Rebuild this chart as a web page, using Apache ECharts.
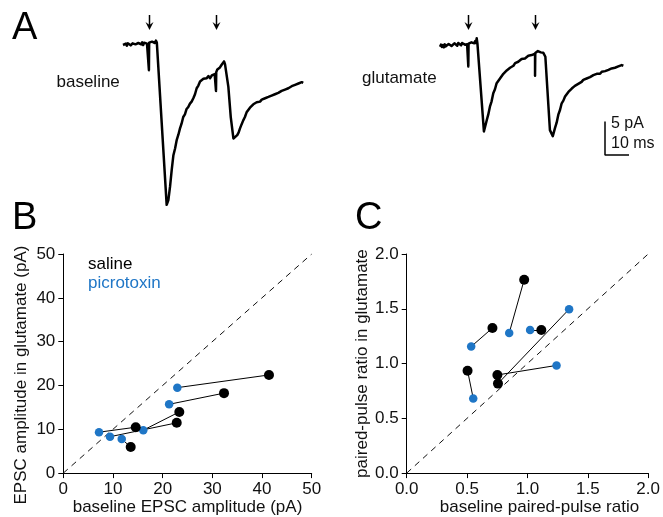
<!DOCTYPE html>
<html>
<head>
<meta charset="utf-8">
<script src="https://cdn.jsdelivr.net/npm/echarts@6/dist/echarts.min.js"></script>
<style>html,body{margin:0;padding:0;background:#fff}#c{width:663px;height:517px}</style>
</head>
<body>
<div id="c"></div>
<script>
// ---- Panel A traces: [time (ms), current (pA) relative to baseline] ----
const baselineTrace = [
[0,-0.15],[0.4,0.1],[0.8,-0.2],[1.2,0.05],[1.6,-0.25],[2.0,0.1],[2.4,-0.1],[2.8,0.15],[3.2,-0.2],[3.6,0.05],[4.0,0.1],[4.4,-0.15],[4.8,0.2],[5.2,-0.05],[5.6,0.1],[6.0,-0.25],[6.4,0.15],[6.8,-0.1],[7.2,0.2],[7.6,-0.05],[8.0,0.25],[8.4,-0.15],[8.8,0.2],[9.2,0.0],[9.6,0.3],[10.0,0.05],[10.4,0.25],[10.8,0.1],[10.8,-3.9],[10.9,0.2],[11.3,0.4],[11.7,0.05],[12.1,0.35],[12.5,0.1],[12.9,0.45],[13.3,0.15],[13.7,0.5],[14.1,0.2],[14.5,0.45],[14.9,0.35],
[18.2,-24.0],[18.9,-23.3],[19.6,-21.3],[20.3,-18.8],[21.0,-16.6],[21.7,-15.6],[22.4,-14.3],[23.1,-13.5],[23.75,-12.6],[24.4,-11.9],[25.1,-10.9],[25.8,-10.5],[26.5,-9.7],[27.2,-9.4],[27.9,-8.9],[28.6,-8.6],[29.3,-8.1],[30.0,-7.5],[30.7,-6.6],[31.4,-6.2],[32.1,-5.6],[32.8,-5.6],[33.5,-5.2],[34.2,-5.4],[34.9,-5.1],[35.6,-4.8],[36.3,-5.1],[37.0,-4.7],[37.6,-4.9],[38.2,-4.5],[38.75,-4.5],[38.75,-7.0],[38.85,-4.2],[39.3,-3.8],[39.7,-3.6],[40.4,-3.5],[41.1,-3.1],[41.6,-3.0],[42.1,-2.6],[42.5,-3.0],[42.9,-3.1],[43.9,-6.4],[44.9,-10.9],[46.0,-14.1],[46.7,-14.3],[47.6,-13.6],[48.2,-13.2],[48.75,-12.6],[49.4,-12.0],[50.1,-11.4],[50.8,-10.9],[51.5,-10.2],[52.2,-10.0],[52.9,-9.5],[53.6,-9.4],[54.3,-9.0],[55.0,-9.1],[55.7,-8.7],[56.4,-8.8],[57.1,-8.6],[57.8,-8.3],[58.5,-8.5],[59.2,-8.1],[59.9,-8.3],[60.6,-7.9],[61.25,-8.0],[61.9,-7.7],[62.6,-7.9],[63.3,-7.5],[64.0,-7.7],[64.7,-7.3],[65.4,-7.4],[66.1,-7.0],[66.8,-7.2],[67.5,-6.8],[68.2,-7.0],[68.9,-6.6],[69.6,-6.6],[70.3,-6.3],[71.0,-6.5],[71.7,-6.1],[72.4,-6.3],[73.1,-5.9],[73.8,-6.1],[74.5,-5.7],[75.1,-5.8]
];
const glutamateTrace = [
[0,-0.25],[0.4,0.05],[0.8,-0.3],[1.2,0.0],[1.6,-0.35],[2.0,0.1],[2.4,-0.2],[2.8,0.05],[3.2,-0.3],[3.6,0.15],[4.0,-0.1],[4.4,0.2],[4.8,-0.15],[5.2,0.1],[5.6,-0.2],[6.0,0.25],[6.4,0.0],[6.8,0.2],[7.2,-0.1],[7.6,0.3],[8.0,0.05],[8.4,0.25],[8.8,-0.05],[9.2,0.3],[9.6,0.1],[10.0,0.35],[10.4,0.05],[10.8,0.3],[11.3,0.1],[11.8,0.3],[11.8,-3.2],[11.9,0.2],[12.3,0.45],[12.7,0.15],[13.1,0.4],[13.5,0.2],[13.9,0.5],[14.3,0.25],[14.7,0.6],[15.0,0.3],[15.3,1.0],[15.6,0.2],
[18.3,-12.9],[19.5,-11.2],[20.1,-10.4],[20.8,-9.2],[21.5,-8.4],[22.2,-7.2],[22.9,-6.6],[23.6,-5.7],[24.3,-5.5],[25.0,-5.0],[25.7,-4.8],[26.4,-4.3],[27.1,-4.2],[27.8,-3.8],[28.5,-3.9],[29.2,-3.4],[29.9,-3.2],[30.6,-3.1],[31.3,-2.7],[32.0,-2.8],[32.6,-2.5],[33.3,-2.4],[34.0,-2.1],[34.7,-2.3],[35.4,-2.0],[36.1,-1.9],[36.8,-1.6],[37.5,-1.8],[38.2,-1.5],[38.9,-1.6],[39.6,-1.3],[39.6,-4.6],[39.7,-1.2],[40.3,-1.2],[40.8,-0.9],[41.4,-0.85],[42.0,-1.1],[42.5,-0.9],[43.0,-1.15],[43.9,-1.75],[45.8,-12.7],[47.0,-13.6],[47.9,-12.4],[48.6,-11.6],[49.3,-10.4],[50.0,-9.7],[50.7,-8.7],[51.4,-8.3],[52.1,-7.7],[52.8,-7.5],[53.5,-7.0],[54.2,-6.9],[54.9,-6.5],[55.5,-6.5],[56.2,-6.1],[56.9,-6.0],[57.6,-5.8],[58.3,-5.7],[59.0,-5.5],[59.7,-5.2],[60.4,-5.3],[61.1,-5.0],[61.8,-5.0],[62.5,-4.8],[63.2,-4.8],[63.9,-4.5],[64.6,-4.6],[65.3,-4.3],[66.0,-4.4],[66.7,-4.3],[67.4,-4.0],[68.1,-4.2],[68.8,-3.9],[69.5,-4.0],[70.2,-3.7],[70.8,-3.8],[71.5,-3.5],[72.2,-3.7],[72.9,-3.4],[73.6,-3.5],[74.3,-3.2],[75.0,-3.3],[75.7,-3.0],[76.4,-3.1]
];
const baselineStimTimes = [10.8, 38.75];
const glutamateStimTimes = [11.8, 39.6];
const scaleBarMs = 10;
const scaleBarPA = 5;

// ---- Panel B: EPSC amplitude (pA); index i = same cell ----
const salineB_x = [41.4, 32.35, 23.35, 22.83, 14.58, 13.57];
const salineB_y = [22.4, 18.25, 13.96, 11.47, 10.47, 5.95];
const picroB_x  = [22.95, 21.3, 16.1, 9.4, 7.19, 11.76];
const picroB_y  = [19.5, 15.7, 9.8, 8.3, 9.34, 7.76];
const ticksB = [0, 10, 20, 30, 40, 50];

// ---- Panel C: paired-pulse ratio ----
const salineC_x = [0.973, 0.71, 1.115, 0.504, 0.751, 0.756];
const salineC_y = [1.765, 1.324, 1.306, 0.935, 0.896, 0.817];
const picroC_x  = [0.849, 0.534, 1.022, 0.551, 1.241, 1.345];
const picroC_y  = [1.279, 1.155, 1.306, 0.682, 0.983, 1.496];
const ticksC = [0.0, 0.5, 1.0, 1.5, 2.0];

const FONT = '"Liberation Sans", Arial, Helvetica, sans-serif';
const BLUE = '#1f76c6';
const zip = (a, b) => a.map((v, i) => [v, b[i]]);
const pairs = (ax, ay, bx, by) => ax.map((v, i) => ({ coords: [[v, ay[i]], [bx[i], by[i]]] }));

function valAxis(idx, min, max, interval, fmt, extra) {
  return Object.assign({
    gridIndex: idx, type: 'value', min: min, max: max, interval: interval,
    axisLine: { show: true, onZero: false, lineStyle: { color: '#000', width: 1 } },
    axisTick: { show: true, length: 5, inside: false, lineStyle: { color: '#000', width: 1 } },
    axisLabel: { color: '#111', fontSize: 17, fontFamily: FONT, formatter: fmt, showMinLabel: true, showMaxLabel: true },
    splitLine: { show: false },
    nameLocation: 'middle',
    nameTextStyle: { color: '#111', fontSize: 17, fontFamily: FONT }
  }, extra || {});
}
function hiddenAxis(idx, min, max) {
  return { gridIndex: idx, type: 'value', min: min, max: max, show: false, splitLine: { show: false } };
}

const chart = echarts.init(document.getElementById('c'), null, { renderer: 'canvas' });
const fmtB = v => String(v);
const fmtC = v => v.toFixed(1);

chart.setOption({
  animation: false,
  backgroundColor: '#fff',
  grid: [
    { left: 63.3, top: 254, width: 248.4, height: 221 },
    { left: 406.7, top: 254, width: 243.3, height: 221 },
    { left: 123, top: 17.2, width: 192, height: 201 },
    { left: 440, top: 18.2, width: 192, height: 201 }
  ],
  xAxis: [
    valAxis(0, ticksB[0], ticksB[ticksB.length - 1], 10, fmtB, { name: 'baseline EPSC amplitude (pA)', nameGap: 22 }),
    valAxis(1, ticksC[0], ticksC[ticksC.length - 1], 0.5, fmtC, { name: 'baseline paired-pulse ratio', nameGap: 22,
      nameTextStyle: { color: '#111', fontSize: 17, fontFamily: FONT, padding: [0, 0, 0, 24] } }),
    hiddenAxis(2, 0, 80),
    hiddenAxis(3, 0, 80)
  ],
  yAxis: [
    valAxis(0, ticksB[0], ticksB[ticksB.length - 1], 10, fmtB, { name: 'EPSC amplitude in glutamate (pA)', nameGap: 33,
      nameTextStyle: { color: '#111', fontSize: 17, fontFamily: FONT, padding: [0, 23, 0, 0] } }),
    valAxis(1, ticksC[0], ticksC[ticksC.length - 1], 0.5, fmtC, { name: 'paired-pulse ratio in glutamate', nameGap: 31 }),
    hiddenAxis(2, -26, 4),
    hiddenAxis(3, -26, 4)
  ],
  series: [
    // Panel B
    { type: 'line', xAxisIndex: 0, yAxisIndex: 0, data: [[ticksB[0], ticksB[0]], [ticksB[5], ticksB[5]]], symbol: 'none', silent: true,
      lineStyle: { color: '#111', width: 1, type: [6, 5] }, z: 1 },
    { type: 'lines', coordinateSystem: 'cartesian2d', xAxisIndex: 0, yAxisIndex: 0, data: pairs(salineB_x, salineB_y, picroB_x, picroB_y),
      lineStyle: { color: '#000', width: 1, opacity: 1 }, z: 2 },
    { type: 'scatter', xAxisIndex: 0, yAxisIndex: 0, data: zip(picroB_x, picroB_y), symbolSize: 8.5, itemStyle: { color: BLUE, opacity: 1 }, z: 3 },
    { type: 'scatter', xAxisIndex: 0, yAxisIndex: 0, data: zip(salineB_x, salineB_y), symbolSize: 10, itemStyle: { color: '#000', opacity: 1 }, z: 4 },
    // Panel C
    { type: 'line', xAxisIndex: 1, yAxisIndex: 1, data: [[ticksC[0], ticksC[0]], [ticksC[4], ticksC[4]]], symbol: 'none', silent: true,
      lineStyle: { color: '#111', width: 1, type: [6, 5] }, z: 1 },
    { type: 'lines', coordinateSystem: 'cartesian2d', xAxisIndex: 1, yAxisIndex: 1, data: pairs(salineC_x, salineC_y, picroC_x, picroC_y),
      lineStyle: { color: '#000', width: 1, opacity: 1 }, z: 2 },
    { type: 'scatter', xAxisIndex: 1, yAxisIndex: 1, data: zip(picroC_x, picroC_y), symbolSize: 8.5, itemStyle: { color: BLUE, opacity: 1 }, z: 3 },
    { type: 'scatter', xAxisIndex: 1, yAxisIndex: 1, data: zip(salineC_x, salineC_y), symbolSize: 10, itemStyle: { color: '#000', opacity: 1 }, z: 4 },
    // Panel A
    { type: 'line', xAxisIndex: 2, yAxisIndex: 2, data: baselineTrace, symbol: 'none', lineStyle: { color: '#000', width: 2.5, join: 'round' }, silent: true },
    { type: 'line', xAxisIndex: 3, yAxisIndex: 3, data: glutamateTrace, symbol: 'none', lineStyle: { color: '#000', width: 2.5, join: 'round' }, silent: true },
    { type: 'line', xAxisIndex: 3, yAxisIndex: 3, symbol: 'none', silent: true, lineStyle: { color: '#000', width: 1.5 },
      data: [[68.75, -16.4 + scaleBarPA], [68.75, -16.4], [68.75 + scaleBarMs, -16.4]] }
  ]
});

// arrows over stimulus times + text annotations
const arrows = [];
function addArrow(grid, t) {
  const p = chart.convertToPixel({ gridIndex: grid }, [t, 0]);
  const x = Math.round(p[0]) + 0.5;
  arrows.push({ type: 'line', shape: { x1: x, y1: 15, x2: x, y2: 26 }, style: { stroke: '#000', lineWidth: 1.5 } });
  arrows.push({ type: 'polygon', shape: { points: [[x - 4, 22], [x, 25], [x + 4, 22], [x, 30]] }, style: { fill: '#000' } });
}
baselineStimTimes.forEach(t => addArrow(2, t));
glutamateStimTimes.forEach(t => addArrow(3, t));

function txt(s, x, y, size, color, va) {
  return { type: 'text', x: x, y: y, style: { text: s, fill: color || '#111', font: 'normal ' + size + 'px ' + FONT, verticalAlign: va || 'middle', align: 'left' } };
}
chart.setOption({
  graphic: arrows.concat([
    txt('A', 12, 29, 38, '#000'),
    txt('B', 12, 219, 38, '#000'),
    txt('C', 355, 219, 38, '#000'),
    txt('baseline', 56.5, 82, 17),
    txt('glutamate', 362, 78, 17),
    txt('5 pA', 611, 124, 16),
    txt('10 ms', 611, 144, 16),
    txt('saline', 88, 264, 17, '#000'),
    txt('picrotoxin', 88, 283, 17, BLUE)
  ])
});
</script>
</body>
</html>
